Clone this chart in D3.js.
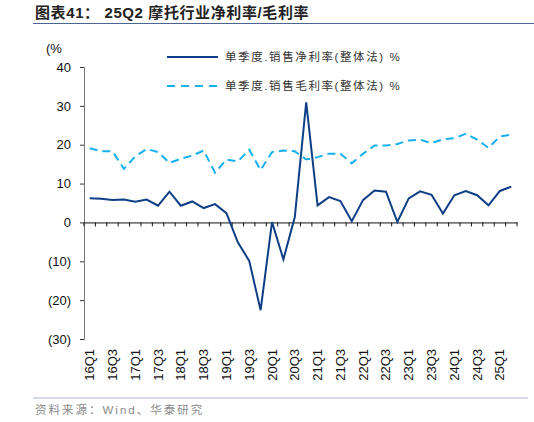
<!DOCTYPE html>
<html>
  <head>
    <meta charset="utf-8">
    <title>摩托行业净利率/毛利率</title>
    <script src="https://d3js.org/d3.v7.min.js"></script>
    <style>
      body { margin: 0; background: #fff; }
      text { font-family: Arial, "Liberation Sans", "Noto Sans CJK SC", sans-serif; }
    </style>
  </head>
  <body>
  </body>
</html>

<script>
  // quarters 16Q1 .. 25Q2
  var quarters = [];
  for (var yr = 16; yr <= 25; yr++) {
    for (var q = 1; q <= 4; q++) {
      if (yr === 25 && q > 2) break;
      quarters.push(yr + "Q" + q);
    }
  }

  var netMargin = [6.2, 6.1, 5.8, 5.9, 5.3, 5.9, 4.3, 7.9, 4.3, 5.4, 3.7, 4.7, 2.4,
                   -5.1, -9.9, -22.6, 0.1, -9.5, 1.4, 30.9, 4.4, 6.5, 5.5, 0.3, 5.8,
                   8.2, 7.9, 0.1, 6.2, 8.0, 7.1, 2.3, 7.0, 8.1, 7.0, 4.4, 8.1, 9.2];

  var grossMargin = [19.1, 18.3, 18.3, 13.8, 17.0, 18.9, 18.1, 15.3, 16.4, 17.2, 18.5, 12.8, 16.2,
                     15.7, 18.7, 13.5, 18.1, 18.5, 18.3, 16.2, 16.8, 17.7, 17.7, 15.2, 17.7,
                     19.8, 19.8, 20.2, 21.1, 21.3, 20.4, 21.4, 21.7, 22.8, 21.3, 19.2, 22.1, 22.6];

  var yTicks = [40, 30, 20, 10, 0, -10, -20, -30];
  var xLabels = quarters.filter(function (d, i) { return i % 2 === 0; });

  var seriesNames = ["单季度.销售净利率(整体法) %", "单季度.销售毛利率(整体法) %"];

  var width = 534, height = 422;
  var svg = d3.select("body").append("svg")
              .attr("width", width)
              .attr("height", height);

  // title
  svg.append("text")
     .attr("x", 35)
     .attr("y", 18)
     .attr("font-size", 15)
     .attr("font-weight", "bold")
     .attr("fill", "#222")
     .attr("letter-spacing", 0.6)
     .text("图表41：  25Q2 摩托行业净利率/毛利率");
  svg.append("line")
     .attr("x1", 33).attr("x2", 534)
     .attr("y1", 23.5).attr("y2", 23.5)
     .attr("stroke", "#4a6592").attr("stroke-width", 1);

  var x = d3.scaleBand().domain(quarters).range([84, 517]);
  var y = d3.scaleLinear().domain([-30, 40]).range([339, 67]);

  // y axis
  var yAxis = svg.append("g")
                 .attr("transform", "translate(84,0)")
                 .call(d3.axisLeft(y).tickValues(yTicks).tickSize(4).tickPadding(9)
                   .tickFormat(function (d) { return d < 0 ? "(" + (-d) + ")" : d; }));
  yAxis.select(".domain").attr("stroke", "#777");
  yAxis.selectAll(".tick line").attr("stroke", "#333");
  yAxis.selectAll("text").attr("font-size", 13).attr("fill", "#111");

  svg.append("text")
     .attr("x", 46).attr("y", 53)
     .attr("font-size", 13).attr("fill", "#111")
     .text("(%");

  // x axis on zero line
  var xAxis = svg.append("g")
                 .attr("transform", "translate(0," + y(0) + ")")
                 .call(d3.axisBottom(x).tickValues([]).tickSizeOuter(0));
  xAxis.select(".domain").attr("stroke", "#111");
  xAxis.selectAll(".edge")
       .data(d3.range(quarters.length + 1))
       .enter().append("line")
       .attr("x1", function (i) { return x.range()[0] + i * x.step(); })
       .attr("x2", function (i) { return x.range()[0] + i * x.step(); })
       .attr("y1", 0).attr("y2", 4)
       .attr("stroke", "#111");

  svg.selectAll(".xlab")
     .data(xLabels)
     .enter().append("text")
     .attr("class", "xlab")
     .attr("transform", function (d) {
       return "translate(" + (x(d) + x.bandwidth() / 2 + 4.5) + ",349) rotate(-90)";
     })
     .attr("text-anchor", "end")
     .attr("font-size", 13)
     .attr("fill", "#111")
     .text(function (d) { return d; });

  var line = d3.line()
               .x(function (d, i) { return x(quarters[i]) + x.bandwidth() / 2; })
               .y(function (d) { return y(d); });

  svg.append("path")
     .datum(grossMargin)
     .attr("d", line)
     .attr("fill", "none")
     .attr("stroke", "#17b0ee")
     .attr("stroke-width", 2)
     .attr("stroke-dasharray", "8,5");

  svg.append("path")
     .datum(netMargin)
     .attr("d", line)
     .attr("fill", "none")
     .attr("stroke", "#0e3f86")
     .attr("stroke-width", 2);

  // legend
  var legend = [
    { name: seriesNames[0], color: "#0e3f86", dash: null, y: 57 },
    { name: seriesNames[1], color: "#17b0ee", dash: "8,6", y: 86 }
  ];
  var lg = svg.selectAll(".lg").data(legend).enter().append("g");
  lg.append("line")
    .attr("x1", 167).attr("x2", 218)
    .attr("y1", function (d) { return d.y; }).attr("y2", function (d) { return d.y; })
    .attr("stroke", function (d) { return d.color; })
    .attr("stroke-width", 2)
    .attr("stroke-dasharray", function (d) { return d.dash; });
  lg.append("text")
    .attr("x", 225)
    .attr("y", function (d) { return d.y + 4; })
    .attr("font-size", 11.5)
    .attr("letter-spacing", 1.6)
    .attr("fill", "#333")
    .text(function (d) { return d.name; });

  // footer
  svg.append("line")
     .attr("x1", 33).attr("x2", 528)
     .attr("y1", 398).attr("y2", 398)
     .attr("stroke", "#a3b5d2").attr("stroke-width", 1.2);
  svg.append("text")
     .attr("x", 35).attr("y", 414)
     .attr("font-size", 11.5)
     .attr("letter-spacing", 2)
     .attr("fill", "#8a8a8a")
     .text("资料来源：Wind、华泰研究");
</script>
